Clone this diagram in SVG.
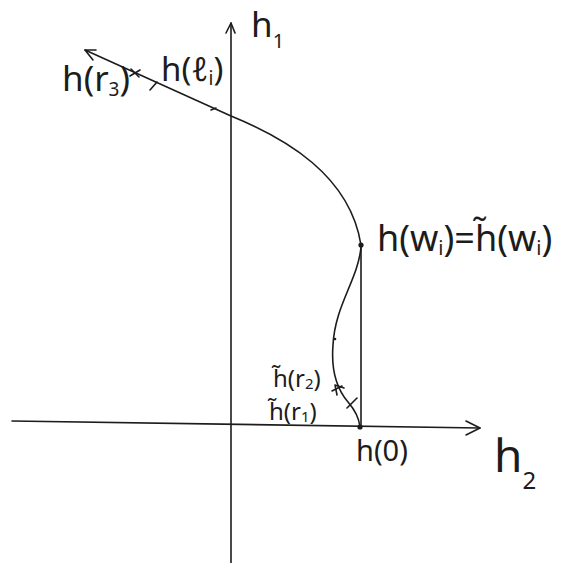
<svg xmlns="http://www.w3.org/2000/svg" width="561" height="563" viewBox="0 0 561 563">
<style>
.ln{fill:none;stroke:#1c1c1c;stroke-width:1.6;stroke-linecap:round;stroke-linejoin:round}
.t{font-family:"Noto Sans","DejaVu Sans",sans-serif;fill:#1c1c1c}
</style>
<rect width="561" height="563" fill="#ffffff"/>
<g id="axes">
<path class="ln" d="M231 563 L231 23"/>
<path class="ln" d="M226 33 L231 23 L235 33"/>
<path class="ln" d="M12 421 L480 428"/>
<path class="ln" d="M466 421 L480 428 L466 435"/>
</g>
<g id="connectors">
<path class="ln" d="M85 50 L231 116 C285 138 350 175 361 245"/>
<path class="ln" d="M85 50 L93 60 M85 50 L96 50"/>
<path class="ln" d="M131 69 L139 77 M130 76 L140 70"/>
<path class="ln" d="M150 90 L157 82"/>
<path class="ln" d="M211 110 L216 108"/>
<path class="ln" d="M361 245 L361 427"/>
<path class="ln" d="M361 247 C358 280 335 305 333 345 C331 370 336 388 348 402 C355 410 359 418 360 427"/>
<path class="ln" d="M335 385 L337 395 M335 385 L344 388"/>
<path class="ln" d="M332 391 L342 386"/>
<path class="ln" d="M347 408 L357 398"/>
<circle cx="361" cy="245" r="2.6" fill="#1c1c1c"/>
<circle cx="360" cy="427" r="2.6" fill="#1c1c1c"/>
<circle cx="335" cy="339" r="1.3" fill="#1c1c1c"/>
</g>
<g id="label-h1"><text class="t" x="251" y="37" font-size="35">h<tspan font-size="20" dy="11">1</tspan></text></g>
<g id="label-h2"><text class="t" x="494" y="472" font-size="46">h<tspan font-size="24" dy="17">2</tspan></text></g>
<g id="label-hr3"><text class="t" x="62" y="91" font-size="35">h(r<tspan font-size="19" dy="5">3</tspan><tspan dy="-5">)</tspan></text></g>
<g id="label-hli"><text class="t" x="161" y="81" font-size="33">h(ℓ<tspan font-size="19" dy="4">i</tspan><tspan dy="-4">)</tspan></text></g>
<g id="label-hwi"><text class="t" x="377" y="251" font-size="36">h(w<tspan font-size="20" dy="4">i</tspan><tspan dy="-4">)=h̃(w</tspan><tspan font-size="20" dy="4">i</tspan><tspan dy="-4">)</tspan></text></g>
<g id="label-hr2"><text class="t" x="273" y="387" font-size="24">h̃(r<tspan font-size="15" dy="2">2</tspan><tspan dy="-2">)</tspan></text></g>
<g id="label-hr1"><text class="t" x="269" y="420" font-size="24">h̃(r<tspan font-size="15" dy="2">1</tspan><tspan dy="-2">)</tspan></text></g>
<g id="label-h0"><text class="t" x="356" y="461" font-size="29">h(0)</text></g>
</svg>
